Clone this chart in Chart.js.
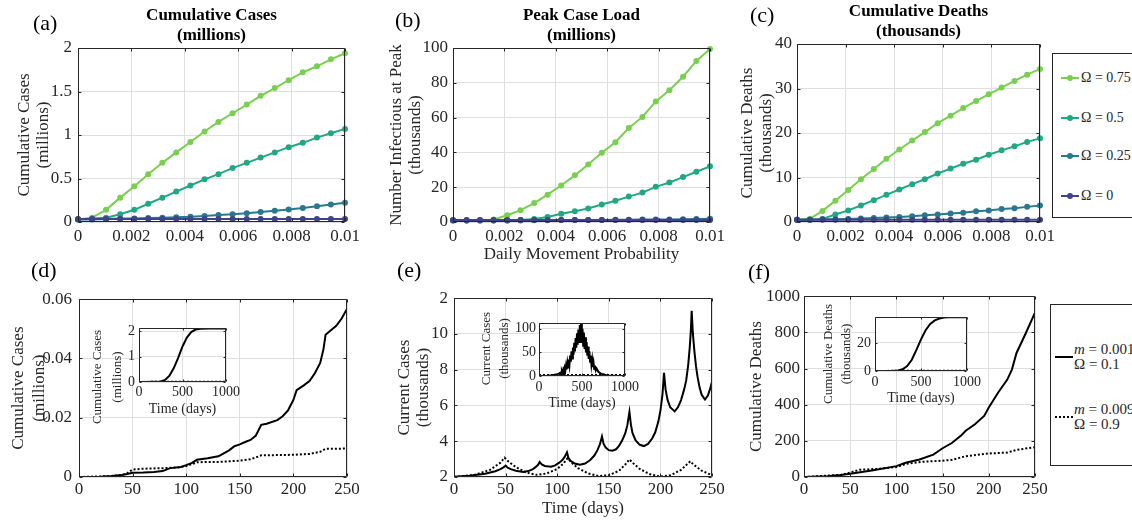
<!DOCTYPE html>
<html>
<head>
<meta charset="utf-8">
<script src="https://cdn.jsdelivr.net/npm/chart.js@4.4.0/dist/chart.umd.min.js"></script>
<style>
  html, body { margin: 0; padding: 0; background: #fff; }
  #fig { position: relative; width: 1132px; height: 522px; overflow: hidden;
         font-family: 'Liberation Serif', 'Times New Roman', serif; color: #262626; }
  canvas { position: absolute; }
  .tag { position: absolute; font-size: 22px; line-height: 26px; color: #000; }
  .legend { position: absolute; border: 1px solid #262626; background: #fff; box-sizing: border-box; }
  .entry { position: absolute; white-space: nowrap; }
</style>
</head>
<body>
<div id="fig"></div>
<script>
// ---- top row: sweep over daily movement probability ----
const mobility = [0, 0.00053, 0.00105, 0.00158, 0.00211, 0.00263, 0.00316, 0.00368, 0.00421, 0.00474,
                  0.00526, 0.00579, 0.00632, 0.00684, 0.00737, 0.00789, 0.00842, 0.00895, 0.00947, 0.01];
const omegaLabels = ['Ω = 0.75', 'Ω = 0.5', 'Ω = 0.25', 'Ω = 0'];
const omegaColors = ['#79cf4f', '#22a784', '#29788e', '#404387'];

// (a) cumulative cases (millions)
const casesW075 = [0.03, 0.05, 0.14, 0.28, 0.41, 0.55, 0.68, 0.80, 0.92, 1.04, 1.15, 1.25, 1.35, 1.45, 1.54, 1.63, 1.72, 1.79, 1.87, 1.94];
const casesW050 = [0.03, 0.04, 0.05, 0.09, 0.14, 0.21, 0.28, 0.35, 0.42, 0.49, 0.55, 0.62, 0.68, 0.74, 0.80, 0.86, 0.91, 0.97, 1.02, 1.07];
const casesW025 = [0.03, 0.03, 0.035, 0.04, 0.04, 0.045, 0.05, 0.055, 0.06, 0.07, 0.08, 0.09, 0.10, 0.115, 0.13, 0.145, 0.16, 0.18, 0.20, 0.22];
const casesW000 = [0.035, 0.035, 0.035, 0.035, 0.035, 0.035, 0.035, 0.035, 0.035, 0.035, 0.035, 0.035, 0.035, 0.035, 0.035, 0.035, 0.035, 0.035, 0.035, 0.035];

// (b) number infectious at peak (thousands)
const peakW075 = [1.0, 0.8, 0.8, 1.5, 3.9, 6.8, 10.9, 15.7, 21.0, 26.8, 33.0, 39.8, 45.8, 54.0, 60.4, 69.3, 75.7, 83.5, 92.6, 99.4];
const peakW050 = [0.8, 0.8, 0.8, 0.8, 0.9, 1.1, 1.7, 2.9, 4.7, 6.2, 7.8, 10.1, 12.2, 14.6, 16.9, 20.2, 22.7, 25.8, 28.9, 32.0];
const peakW025 = [0.8, 0.8, 0.8, 0.8, 0.9, 0.9, 1.0, 1.0, 1.1, 1.1, 1.2, 1.2, 1.3, 1.3, 1.4, 1.4, 1.5, 1.6, 1.7, 1.8];
const peakW000 = [1.2, 1.2, 1.2, 1.2, 1.2, 1.2, 1.2, 1.2, 1.2, 1.2, 1.2, 1.2, 1.2, 1.2, 1.2, 1.2, 1.2, 1.2, 1.2, 1.2];

// (c) cumulative deaths (thousands)
const deathsW075 = [0.5, 0.7, 2.5, 4.8, 7.2, 9.6, 11.9, 14.2, 16.3, 18.3, 20.2, 22.2, 23.9, 25.6, 27.2, 28.7, 30.2, 31.7, 33.1, 34.4];
const deathsW050 = [0.5, 0.5, 0.7, 1.7, 2.6, 3.7, 4.9, 6.1, 7.3, 8.5, 9.6, 10.9, 12.0, 13.1, 14.0, 15.1, 16.1, 17.0, 18.0, 18.8];
const deathsW025 = [0.5, 0.5, 0.6, 0.6, 0.7, 0.8, 0.9, 1.0, 1.1, 1.3, 1.5, 1.7, 1.9, 2.1, 2.4, 2.6, 2.9, 3.1, 3.4, 3.7];
const deathsW000 = [0.5, 0.5, 0.5, 0.5, 0.5, 0.5, 0.5, 0.5, 0.5, 0.5, 0.5, 0.5, 0.5, 0.5, 0.5, 0.5, 0.5, 0.5, 0.5, 0.5];

// ---- bottom row: time series, m = 0.0011 / Ω = 0.1 (solid) and m = 0.0095 / Ω = 0.9 (dotted) ----
const pairLabels = [['m = 0.0011', 'Ω = 0.1'], ['m = 0.0095', 'Ω = 0.9']];

// (d) cumulative cases (millions)
const dDaysLow = [0, 20, 30, 40, 45, 50, 60, 70, 78, 85, 95, 100, 105, 110, 120, 130, 135, 140, 145, 150, 155, 160, 165, 170,
                  175, 185, 190, 195, 200, 203, 210, 215, 220, 225, 228, 230, 235, 240, 245, 250];
const dCasesLow = [0, 0.0001, 0.0003, 0.0007, 0.001, 0.0014, 0.0015, 0.0017, 0.002, 0.003, 0.0034, 0.004, 0.0047, 0.0058, 0.0063,
                   0.007, 0.008, 0.009, 0.0104, 0.011, 0.0118, 0.0125, 0.014, 0.0176, 0.018, 0.0192, 0.0205, 0.0225, 0.026, 0.0293,
                   0.031, 0.0324, 0.035, 0.0385, 0.043, 0.048, 0.0495, 0.051, 0.0535, 0.0567];
const dDaysHigh = [0, 30, 40, 45, 50, 60, 80, 95, 100, 105, 110, 130, 150, 160, 165, 170, 200, 215, 225, 230, 250];
const dCasesHigh = [0, 0.0003, 0.0007, 0.0013, 0.0025, 0.0028, 0.003, 0.0033, 0.0037, 0.0043, 0.005, 0.0051, 0.0055, 0.006,
                    0.0066, 0.0073, 0.0075, 0.0078, 0.0085, 0.0095, 0.0096];

// (e) current cases (thousands)
const eDaysLow = [0, 15, 30, 40, 45, 48, 50, 52, 55, 60, 67, 72, 76, 79, 81.5, 83, 85, 88, 94, 98, 102, 105, 107.5, 109.5,
                  111, 113, 117, 122, 127, 132, 136, 139, 141.5, 143.4, 145, 147, 150, 153.4, 157, 160, 163, 166, 168, 170,
                  171.5, 173, 176, 180, 184, 188, 192, 195, 198, 200, 202, 203.5, 205, 207, 209.5, 213.8, 217, 220, 223, 225,
                  227, 228.5, 229.5, 230.3, 231.5, 233, 234.5, 236, 238, 240, 243.2, 246, 248, 250];
const eCasesLow = [2.02, 2.07, 2.18, 2.32, 2.44, 2.54, 2.64, 2.52, 2.44, 2.35, 2.28, 2.33, 2.42, 2.55, 2.68, 2.84, 2.7, 2.62,
                   2.58, 2.65, 2.8, 2.95, 3.15, 3.38, 3.05, 2.9, 2.75, 2.69, 2.75, 2.95, 3.2, 3.5, 3.85, 4.27, 3.85, 3.65, 3.5,
                   3.47, 3.55, 3.75, 4.05, 4.45, 4.9, 5.64, 4.9, 4.45, 4.05, 3.8, 3.73, 3.85, 4.15, 4.5, 5.1, 5.7, 6.6, 7.82,
                   6.9, 6.3, 5.9, 5.67, 5.9, 6.3, 6.9, 7.4, 8.3, 9.3, 10.2, 11.29, 10.0, 9.0, 8.2, 7.6, 7.0, 6.6, 6.33, 6.55,
                   6.9, 7.33];
const eDaysHigh = [0, 20, 35, 45, 49, 53, 60, 70, 80, 90, 100, 106, 110, 114, 120, 130, 140, 150, 160, 166, 170, 174, 180, 190,
                   200, 210, 220, 226, 229, 232, 240, 250];
const eCasesHigh = [2.0, 2.12, 2.4, 2.8, 3.08, 2.85, 2.55, 2.25, 2.12, 2.2, 2.45, 2.75, 3.05, 2.8, 2.5, 2.2, 2.05, 2.1, 2.35,
                    2.7, 2.98, 2.75, 2.45, 2.15, 2.02, 2.1, 2.4, 2.72, 2.88, 2.7, 2.35, 2.1];

// (f) cumulative deaths
const fDaysLow = [0, 25, 40, 50, 75, 100, 110, 125, 140, 150, 160, 170, 175, 185, 195, 200, 210, 220, 225, 230, 240, 250];
const fDeathsLow = [0, 4, 11, 18, 37, 60, 79, 97, 124, 159, 188, 229, 256, 292, 338, 384, 466, 539, 594, 686, 795, 909];
const fDaysHigh = [0, 40, 50, 60, 80, 100, 110, 130, 150, 160, 175, 200, 220, 230, 250];
const fDeathsHigh = [0, 12, 25, 40, 45, 55, 72, 85, 90, 95, 115, 130, 135, 150, 165];

// insets, 0-1000 days
const dInsetDaysLow = [0, 200, 250, 300, 350, 400, 450, 500, 550, 600, 650, 700, 800, 1000];
const dInsetCasesLow = [0, 0.005, 0.02, 0.08, 0.25, 0.55, 0.95, 1.4, 1.75, 1.97, 2.07, 2.1, 2.11, 2.11];
const dInsetDaysHigh = [0, 250, 1000];
const dInsetCasesHigh = [0, 0.01, 0.012];

const eInsetDaysLow = [0, 100, 150, 200, 230, 250, 258, 266, 274, 282, 290, 298, 306, 314, 322, 330, 338, 346, 354, 362, 370,
                       378, 386, 394, 402, 410, 418, 426, 434, 442, 450, 458, 466, 474, 482, 490, 498, 506, 514, 522, 530,
                       538, 546, 554, 562, 570, 578, 586, 594, 602, 610, 618, 626, 634, 642, 650, 660, 670, 690, 720, 760,
                       800, 900, 1000];
const eInsetCasesLow = [0, 0.5, 1.5, 3, 5, 7, 4, 10, 6, 13, 8, 17, 11, 22, 14, 28, 18, 35, 24, 43, 30, 52, 37, 60, 45, 70, 52,
                        80, 60, 90, 66, 98, 72, 108, 75, 113, 70, 100, 64, 92, 57, 82, 50, 72, 43, 62, 36, 52, 30, 43, 24,
                        35, 19, 28, 15, 22, 12, 16, 9, 5, 2.5, 1.2, 0.2, 0];
const eInsetDaysHigh = [0, 250, 500, 750, 1000];
const eInsetCasesHigh = [2, 2.5, 2, 2.5, 2];

const fInsetDaysLow = [0, 100, 200, 250, 300, 350, 400, 450, 500, 550, 600, 650, 700, 750, 800, 900, 1000];
const fInsetDeathsLow = [0, 0, 0.1, 0.4, 1.2, 3.5, 8, 15, 22.5, 29, 33.5, 36, 37.3, 38, 38.2, 38.3, 38.3];
const fInsetDaysHigh = [0, 250, 1000];
const fInsetDeathsHigh = [0, 0.17, 0.2];

// tick values and labels
const mobilityTicks = [0, 0.002, 0.004, 0.006, 0.008, 0.01];
const mobilityTickLabels = ['0', '0.002', '0.004', '0.006', '0.008', '0.01'];
const dayTicks = [0, 50, 100, 150, 200, 250];
const insetDayTicks = [0, 500, 1000];
const casesTicks = [0, 0.5, 1, 1.5, 2];
const peakTicks = [0, 20, 40, 60, 80, 100];
const deathsTicks = [0, 10, 20, 30, 40];
const dTicks = [0, 0.02, 0.04, 0.06];
const eTicks = [2, 4, 6, 8, 10, 12];
const eTickLabels = ['2', '4', '6', '8', '10', '2'];
const fTicks = [0, 200, 400, 600, 800, 1000];
const dInsetTicks = [0, 1, 2];
const eInsetTicks = [0, 50, 100];
const fInsetTicks = [0, 20];

const serif = "'Liberation Serif', 'Times New Roman', serif";
Chart.defaults.font.family = serif;
Chart.defaults.color = '#262626';

const fig = document.getElementById('fig');

// box round the plot area, with MATLAB-style inward ticks
const framePlugin = {
  id: 'frame',
  beforeDraw(chart, args, opts) {
    if (!opts.fill) return;
    const { ctx, chartArea: a } = chart;
    ctx.save();
    ctx.fillStyle = '#fff';
    ctx.fillRect(a.left, a.top, a.width, a.height);
    ctx.restore();
  },
  afterDraw(chart, args, opts) {
    const { ctx, chartArea: a, scales } = chart;
    const L = Math.round(a.left) + 0.5, R = Math.round(a.right) - 0.5;
    const T = Math.round(a.top) + 0.5, B = Math.round(a.bottom) - 0.5;
    const len = opts.tick || 3;
    ctx.save();
    ctx.strokeStyle = '#262626';
    ctx.lineWidth = 1;
    ctx.beginPath();
    ctx.rect(L, T, R - L, B - T);
    scales.x.ticks.forEach(t => {
      const px = Math.round(scales.x.getPixelForValue(t.value)) + 0.5;
      ctx.moveTo(px, B); ctx.lineTo(px, B - len);
      ctx.moveTo(px, T); ctx.lineTo(px, T + len);
    });
    scales.y.ticks.forEach(t => {
      const py = Math.round(scales.y.getPixelForValue(t.value)) + 0.5;
      ctx.moveTo(L, py); ctx.lineTo(L + len, py);
      ctx.moveTo(R, py); ctx.lineTo(R - len, py);
    });
    ctx.stroke();
    ctx.restore();
  }
};

// rotated y label for the insets (placed off-centre like the original)
const sideTitlePlugin = {
  id: 'sideTitle',
  afterDraw(chart, args, opts) {
    if (!opts.lines) return;
    const { ctx, chartArea: a } = chart;
    ctx.save();
    ctx.font = `${opts.size}px ${serif}`;
    ctx.fillStyle = '#262626';
    ctx.textAlign = 'center';
    ctx.textBaseline = 'middle';
    ctx.translate(a.left + opts.dx, (a.top + a.bottom) / 2 + opts.dy);
    ctx.rotate(-Math.PI / 2);
    opts.lines.forEach((s, i) => ctx.fillText(s, 0, i * opts.lh));
    ctx.restore();
  }
};

function addCanvas(left, top, width, height) {
  const c = document.createElement('canvas');
  c.width = width;
  c.height = height;
  c.style.left = left + 'px';
  c.style.top = top + 'px';
  fig.appendChild(c);
  return c;
}

function axis(a, tickSize, fitSize, horizontal) {
  return {
    type: 'linear',
    min: a.min,
    max: a.max,
    afterBuildTicks: s => { s.ticks = a.ticks.map(v => ({ value: v })); },
    afterFit: s => { if (horizontal) s.height = fitSize; else s.width = fitSize; },
    ticks: {
      font: { size: tickSize },
      padding: a.pad,
      maxRotation: 0,
      autoSkip: false,
      color: '#262626',
      callback: (v, i) => (a.labels ? a.labels[i] : String(v))
    },
    grid: { color: '#dfdfdf', drawTicks: false },
    border: { display: false },
    title: a.title
      ? { display: true, text: a.title, color: '#262626',
          font: { size: a.titleSize, lineHeight: a.titleLh + 'px' },
          padding: { top: a.titleTop || 0, bottom: a.titleBottom || 0 } }
      : { display: false }
  };
}

function panel(p) {
  const [l, t, r, b] = p.plot;
  const m = p.margin;
  const canvas = addCanvas(l - m.l, t - m.t, r - l + m.l + m.r, b - t + m.t + m.b);
  const tickSize = p.tickSize || 17;
  return new Chart(canvas, {
    type: 'line',
    data: { datasets: p.datasets },
    options: {
      responsive: false,
      animation: false,
      devicePixelRatio: 1,
      layout: { padding: { top: p.title ? 0 : m.t, right: m.r, left: 0, bottom: 0 } },
      elements: { line: { tension: 0 } },
      plugins: {
        legend: { display: false },
        tooltip: { enabled: false },
        title: p.title
          ? { display: true, text: p.title, fullSize: false, color: '#000',
              font: { size: 17, weight: 'bold', lineHeight: '20px' },
              padding: { top: p.titleTop, bottom: m.t - p.titleTop - 20 * p.title.length } }
          : { display: false },
        frame: { fill: !!p.inset, tick: p.inset ? 2 : 3 },
        sideTitle: p.side || {}
      },
      scales: {
        x: axis(p.x, tickSize, m.b, true),
        y: axis(p.y, tickSize, m.l, false)
      }
    },
    plugins: [framePlugin, sideTitlePlugin]
  });
}

function omegaSets(series) {
  return series.map((vals, k) => ({
    label: omegaLabels[k],
    data: mobility.map((x, i) => ({ x, y: vals[i] })),
    borderColor: omegaColors[k],
    backgroundColor: omegaColors[k],
    borderWidth: 2,
    pointRadius: 3,
    pointBorderWidth: 0,
    order: 3 - k,
    clip: 6
  }));
}

function pairSets(daysA, valsA, daysB, valsB) {
  return [
    { label: pairLabels[0].join(', '), data: daysA.map((x, i) => ({ x, y: valsA[i] })),
      borderColor: '#000', borderWidth: 2, pointRadius: 0 },
    { label: pairLabels[1].join(', '), data: daysB.map((x, i) => ({ x, y: valsB[i] })),
      borderColor: '#000', borderWidth: 2, borderDash: [2, 2], pointRadius: 0 }
  ];
}

const mobAxis = { min: 0, max: 0.01, ticks: mobilityTicks, labels: mobilityTickLabels, pad: 4 };

// (a)
panel({
  plot: [78, 48, 345, 222], margin: { l: 78, t: 48, r: 20, b: 28 },
  title: ['Cumulative Cases', '(millions)'], titleTop: 6,
  datasets: omegaSets([casesW075, casesW050, casesW025, casesW000]),
  x: mobAxis,
  y: { min: 0, max: 2, ticks: casesTicks, pad: 6,
       title: ['Cumulative Cases', '(millions)'], titleSize: 17, titleLh: 19, titleTop: 15 }
});
// (b)
panel({
  plot: [453, 48, 710, 222], margin: { l: 70, t: 48, r: 20, b: 43 },
  title: ['Peak Case Load', '(millions)'], titleTop: 6,
  datasets: omegaSets([peakW075, peakW050, peakW025, peakW000]),
  x: Object.assign({}, mobAxis, { title: 'Daily Movement Probability', titleSize: 17, titleLh: 20 }),
  y: { min: 0, max: 100, ticks: peakTicks, pad: 5,
       title: ['Number Infectious at Peak', '(thousands)'], titleSize: 17, titleLh: 19, titleTop: 4.5 }
});
// (c)
panel({
  plot: [797, 44, 1040, 222], margin: { l: 60, t: 44, r: 20, b: 28 },
  title: ['Cumulative Deaths', '(thousands)'], titleTop: 2,
  datasets: omegaSets([deathsW075, deathsW050, deathsW025, deathsW000]),
  x: mobAxis,
  y: { min: 0, max: 40, ticks: deathsTicks, pad: 5,
       title: ['Cumulative Deaths', '(thousands)'], titleSize: 17, titleLh: 19, titleTop: 1.5 }
});
// (d)
panel({
  plot: [79, 294, 347, 477], margin: { l: 79, t: 12, r: 20, b: 30 },
  datasets: pairSets(dDaysLow, dCasesLow, dDaysHigh, dCasesHigh),
  x: { min: 0, max: 250, ticks: dayTicks, pad: 2 },
  y: { min: 0, max: 0.06, ticks: dTicks, pad: 7, labels: dTicks.map(String),
       title: ['Cumulative Cases', '(millions)'], titleSize: 17, titleLh: 21, titleTop: 8 }
});
// (e)
panel({
  plot: [454, 294, 712, 477], margin: { l: 70, t: 12, r: 20, b: 42 },
  datasets: pairSets(eDaysLow, eCasesLow, eDaysHigh, eCasesHigh),
  x: { min: 0, max: 250, ticks: dayTicks, pad: 2, title: 'Time (days)', titleSize: 17, titleLh: 20 },
  y: { min: 2, max: 12, ticks: eTicks, labels: eTickLabels, pad: 6,
       title: ['Current Cases', '(thousands)'], titleSize: 17, titleLh: 19, titleTop: 11.5 }
});
// (f)
panel({
  plot: [804, 294, 1035, 477], margin: { l: 70, t: 12, r: 20, b: 30 },
  datasets: pairSets(fDaysLow, fDeathsLow, fDaysHigh, fDeathsHigh),
  x: { min: 0, max: 250, ticks: dayTicks, pad: 2 },
  y: { min: 0, max: 1000, ticks: fTicks, pad: 4,
       title: ['Cumulative Deaths'], titleSize: 17, titleLh: 20, titleTop: 13 }
});

// insets
const insetX = { min: 0, max: 1000, ticks: insetDayTicks, pad: 2, title: 'Time (days)', titleSize: 14, titleLh: 16, titleBottom: 10 };
panel({
  inset: true, tickSize: 14,
  plot: [139, 328, 226, 382], margin: { l: 60, t: 20, r: 16, b: 45 },
  datasets: pairSets(dInsetDaysLow, dInsetCasesLow, dInsetDaysHigh, dInsetCasesHigh),
  x: insetX,
  y: { min: 0, max: 2.13, ticks: dInsetTicks, pad: 4 },
  side: { lines: ['Cumulative Cases', '(millions)'], size: 13, lh: 20, dx: -41, dy: 22 }
});
panel({
  inset: true, tickSize: 14,
  plot: [539, 323, 626, 376], margin: { l: 70, t: 20, r: 16, b: 45 },
  datasets: pairSets(eInsetDaysLow, eInsetCasesLow, eInsetDaysHigh, eInsetCasesHigh),
  x: Object.assign({}, insetX, { pad: 3 }),
  y: { min: 0, max: 112, ticks: eInsetTicks, pad: 3 },
  side: { lines: ['Current Cases', '(thousands)'], size: 13, lh: 18, dx: -52, dy: -1 }
});
panel({
  inset: true, tickSize: 14,
  plot: [875, 317, 968, 371], margin: { l: 60, t: 20, r: 16, b: 45 },
  datasets: pairSets(fInsetDaysLow, fInsetDeathsLow, fInsetDaysHigh, fInsetDeathsHigh),
  x: Object.assign({}, insetX, { pad: 3 }),
  y: { min: 0, max: 38.4, ticks: fInsetTicks, pad: 4 },
  side: { lines: ['Cumulative Deaths', '(thousands)'], size: 13, lh: 18, dx: -46, dy: 10 }
});

// panel tags
[['(a)', 33, 10], ['(b)', 395, 7], ['(c)', 750, 2], ['(d)', 31, 257], ['(e)', 397, 257], ['(f)', 748, 259]].forEach(([s, x, y]) => {
  const d = document.createElement('div');
  d.className = 'tag';
  d.style.left = x + 'px';
  d.style.top = y + 'px';
  d.textContent = s;
  fig.appendChild(d);
});

// legend for the top row
const legTop = document.createElement('div');
legTop.className = 'legend';
legTop.style.cssText = 'left:1052px;top:53px;width:110px;height:165px;';
fig.appendChild(legTop);
[24, 64, 102, 142].forEach((cy, k) => {
  const e = document.createElement('div');
  e.className = 'entry';
  e.style.cssText = `left:7px;top:${cy - 11}px;height:22px;line-height:22px;font-size:14px;`;
  e.innerHTML = `<svg width="20" height="22" style="vertical-align:top"><line x1="1" y1="11" x2="19" y2="11" stroke="${omegaColors[k]}" stroke-width="2"/>` +
    `<circle cx="10" cy="11" r="3" fill="${omegaColors[k]}"/></svg><span style="margin-left:1px">${omegaLabels[k]}</span>`;
  legTop.appendChild(e);
});

// legend for the bottom row
const legBot = document.createElement('div');
legBot.className = 'legend';
legBot.style.cssText = 'left:1050px;top:304px;width:110px;height:162px;';
fig.appendChild(legBot);
[[52, ''], [112, '2,2']].forEach(([cy, dash], k) => {
  const e = document.createElement('div');
  e.className = 'entry';
  e.style.cssText = `left:3px;top:${cy - 16}px;height:32px;font-size:15px;line-height:14px;`;
  const [l1, l2] = pairLabels[k];
  e.innerHTML = `<svg width="20" height="32" style="position:absolute;left:0;top:0"><line x1="1" y1="16" x2="19" y2="16" stroke="#000" stroke-width="2" stroke-dasharray="${dash}"/></svg>` +
    `<div style="position:absolute;left:20px;top:1px"><i>m</i>${l1.slice(1)}</div>` +
    `<div style="position:absolute;left:20px;top:16px">${l2}</div>`;
  legBot.appendChild(e);
});
</script>
</body>
</html>
